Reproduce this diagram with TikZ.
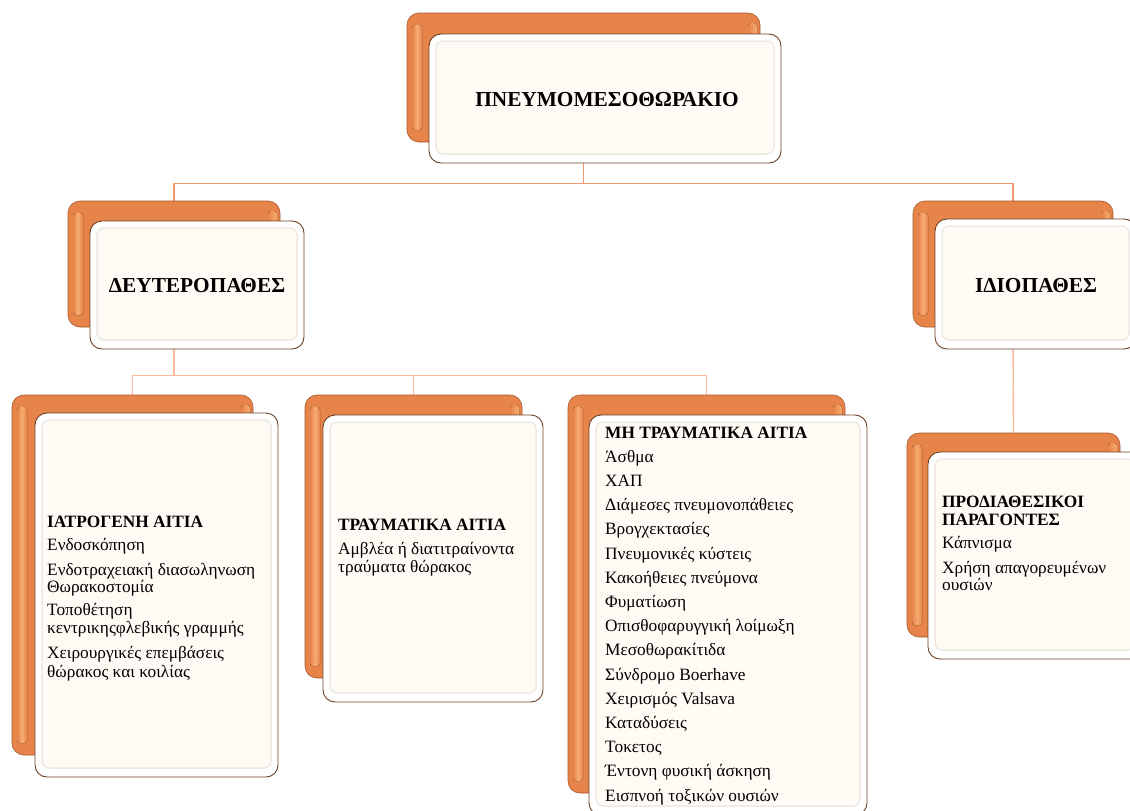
\documentclass[tikz,border=0pt]{standalone}
\usepackage{fontspec}
\setmainfont{Liberation Serif}
\usetikzlibrary{backgrounds}
\definecolor{oraM}{RGB}{230,132,74}
\definecolor{oraD}{RGB}{165,88,45}
\definecolor{oraHi}{RGB}{246,172,112}
\definecolor{wEdge}{RGB}{110,65,38}
\definecolor{wFill}{RGB}{255,250,243}
\definecolor{wRim}{RGB}{238,233,228}
\definecolor{conA}{RGB}{243,152,110}
\definecolor{conB}{RGB}{249,186,155}
\tikzset{
  obox/.style={draw=oraD, line width=0.6pt, fill=oraM, rounded corners=12pt, inner sep=0pt},
  wbox/.style={draw=wEdge, line width=0.9pt, fill=white, rounded corners=12pt, inner sep=0pt},
  conna/.style={draw=conA, line width=1.4pt},
  connb/.style={draw=conB, line width=1.4pt},
  body/.style={anchor=base west, inner sep=0pt, font=\fontsize{17.3}{19}\selectfont},
  head/.style={anchor=base west, inner sep=0pt, font=\fontsize{17.3}{19}\selectfont\bfseries},
  ttl/.style={anchor=base, inner sep=0pt, font=\fontsize{21.3}{24}\selectfont\bfseries},
}
% #1 name, #2-#5 orange box x1 y1 x2 y2, #6-#9 white box x1 y1 x2 y2
\newcommand\twobox[9]{%
  \node[obox, minimum width={#4-#2}, minimum height={#5-#3}] (#1o) at ({(#2+#4)/2},{(#3+#5)/2}) {};
  \fill[left color=oraM, right color=oraM, middle color=oraHi, rounded corners=3pt]
     ({#2+5},{#3+12}) rectangle ({#2+15},{#5-12});
  \fill[left color=oraM, right color=oraHi, rounded corners=3pt]
     ({#4-12},{#3+10}) rectangle ({#4-3},{#7+4});
  \node[wbox, minimum width={#8-#6}, minimum height={#9-#7}] (#1w) at ({(#6+#8)/2},{(#7+#9)/2}) {};
  \filldraw[fill=wFill, draw=wRim, line width=1.5pt, rounded corners=7pt]
     ({#6+7},{#7+7}) rectangle ({#8-7},{#9-9});
}
\begin{document}
\begin{tikzpicture}[x=1pt, y=-1pt]
\useasboundingbox (0,0) rectangle (1130,811);
\clip (0,0) rectangle (1130,811);

\twobox{t}{407}{13}{760}{142}{429}{34}{781}{163}
\twobox{d}{68}{201}{280}{327}{90}{221}{304}{349}
\twobox{i}{913}{201}{1113}{327}{935}{219}{1136}{349}
\twobox{ba}{12}{395}{253}{755}{35}{413}{278}{777}
\twobox{bb}{305}{395}{522}{678}{323}{415}{543}{702}
\twobox{bc}{568}{395}{845}{793}{589}{415}{867}{815}
\twobox{bd}{907}{433}{1120}{637}{928}{452}{1142}{659}

\begin{pgfonlayer}{background}
  \draw[conna] (to.south) -- ++(0,41) -| (do.north);
  \draw[conna] (to.south) -- ++(0,41) -| (io.north);
  \draw[connb] (do.south) -- ++(0,48) -| (bao.north);
  \draw[connb] (do.south) -- ++(0,48) -| (bbo.north);
  \draw[connb] (do.south) -- ++(0,48) -| (bco.north);
  \draw[connb] (io.south) -- (bdo.north);
\end{pgfonlayer}

\node[ttl] (tt) at (607,106) {ΠΝΕΥΜΟΜΕΣΟΘΩΡΑΚΙΟ};
\node[ttl] (dt) at (197,292) {ΔΕΥΤΕΡΟΠΑΘΕΣ};
\node[ttl] (it) at (1036,292) {ΙΔΙΟΠΑΘΕΣ};

% left box
\node[head] (a0) at (47,527) {ΙΑΤΡΟΓΕΝΗ ΑΙΤΙΑ};
\foreach \t/\yy [count=\i] in {Ενδοσκόπηση/550, Ενδοτραχειακή διασωληνωση/575,
  Θωρακοστομία/592, Τοποθέτηση/615, κεντρικηςφλεβικής γραμμής/633,
  Χειρουργικές επεμβάσεις/658, θώρακος και κοιλίας/677}
  \node[body] (a\i) at (47,\yy) {\t};

% middle box
\node[head] (b0) at (338,530) {ΤΡΑΥΜΑΤΙΚΑ ΑΙΤΙΑ};
\node[body] (b1) at (338,554) {Αμβλέα ή διατιτραίνοντα};
\node[body] (b2) at (338,572) {τραύματα θώρακος};

% middle-right box
\node[head] (c0) at (605,438) {ΜΗ ΤΡΑΥΜΑΤΙΚΑ ΑΙΤΙΑ};
\foreach \t [count=\i] in {Άσθμα, ΧΑΠ, Διάμεσες πνευμονοπάθειες, Βρογχεκτασίες,
  Πνευμονικές κύστεις, Κακοήθειες πνεύμονα, Φυματίωση, Οπισθοφαρυγγική λοίμωξη,
  Μεσοθωρακίτιδα, Σύνδρομο Boerhave, Χειρισμός Valsava, Καταδύσεις, Τοκετος,
  Έντονη φυσική άσκηση, Εισπνοή τοξικών ουσιών}
  \node[body] (c\i) at (605,{438+24.2*\i}) {\t};

% far-right box
\node[head] (d0) at (942,507) {ΠΡΟΔΙΑΘΕΣΙΚΟΙ};
\node[head] (d1) at (942,525) {ΠΑΡΑΓΟΝΤΕΣ};
\node[body] (d2) at (942,548) {Κάπνισμα};
\node[body] (d3) at (942,573) {Χρήση απαγορευμένων};
\node[body] (d4) at (942,590) {ουσιών};
\end{tikzpicture}
\end{document}
